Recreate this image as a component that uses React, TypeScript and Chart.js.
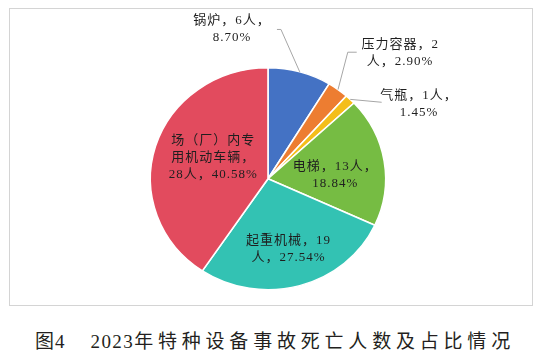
import React, { useEffect, useRef } from 'react';
import { Chart, registerables } from 'chart.js';

Chart.register(...registerables);

// ---- data ----
const categories = ['锅炉', '压力容器', '气瓶', '电梯', '起重机械', '场（厂）内专用机动车辆'];
const deaths = [6, 2, 1, 13, 19, 28];
const colors = ['#4472C4', '#ED7D31', '#F4BE1A', '#76BC43', '#33C2B3', '#E24B5E'];
const caption = '2023年特种设备事故死亡人数及占比情况';

// ---- label layout (character counts per line, anchor in radius units) ----
const wrapCounts = [[6], [6], [6], [7], [7], [6, 6]];
const labelAnchors = [
  [-0.305, -1.345],
  [1.123, -1.128],
  [1.284, -0.677],
  [0.572, -0.032],
  [0.175, 0.637],
  [-0.466, -0.189],
];
// leader polylines (from slice edge) in radius units; null = inside label
const leaders: (number[][] | null)[] = [
  [[0.11, -1.345], [0.076, -1.345]],
  [[0.678, -1.14], [0.754, -1.14]],
  [[0.966, -0.689]],
  null,
  null,
  null,
];

const SX = 1.06; // horizontal stretch of the pie
const RY = 111;

function labelText(i: number) {
  const total = deaths.reduce((a, b) => a + b, 0);
  const pct = ((deaths[i] / total) * 100).toFixed(2) + '%';
  const full = `${categories[i]}，${deaths[i]}人，${pct}`;
  const chars = Array.from(full);
  const lines: string[] = [];
  let p = 0;
  for (const c of wrapCounts[i]) {
    lines.push(chars.slice(p, p + c).join(''));
    p += c;
  }
  lines.push(chars.slice(p).join(''));
  return lines;
}

const stretchPlugin = {
  id: 'stretch',
  beforeDatasetsDraw(chart: any) {
    const a = chart.getDatasetMeta(0).data[0];
    const ctx = chart.ctx;
    ctx.save();
    ctx.translate(a.x, a.y);
    ctx.scale(SX, 1);
    ctx.translate(-a.x, -a.y);
  },
  afterDatasetsDraw(chart: any) {
    chart.ctx.restore();
  },
};

const labelPlugin = {
  id: 'pieLabels',
  afterDraw(chart: any) {
    const ctx = chart.ctx as CanvasRenderingContext2D;
    const arcs = chart.getDatasetMeta(0).data;
    const cx = arcs[0].x;
    const cy = arcs[0].y;
    const ry = arcs[0].outerRadius;
    const rx = ry * SX;
    ctx.save();
    arcs.forEach((arc: any, i: number) => {
      const mid = (arc.startAngle + arc.endAngle) / 2;
      const lead = leaders[i];
      if (lead) {
        ctx.strokeStyle = '#A6A6A6';
        ctx.lineWidth = 1;
        ctx.beginPath();
        ctx.moveTo(cx + rx * Math.cos(mid), cy + ry * Math.sin(mid));
        lead.forEach(([ux, uy]) => ctx.lineTo(cx + ux * rx, cy + uy * ry));
        ctx.stroke();
      }
      const [ax, ay] = labelAnchors[i];
      const x = cx + ax * rx;
      const y = cy + ay * ry;
      const lines = labelText(i);
      const lh = 17;
      ctx.font = '13px "Liberation Serif", "Noto Sans CJK SC", serif';
      (ctx as any).letterSpacing = '1px';
      ctx.fillStyle = '#1F1F1F';
      ctx.textAlign = 'center';
      ctx.textBaseline = 'middle';
      lines.forEach((ln, k) => {
        ctx.fillText(ln, x, y + (k - (lines.length - 1) / 2) * lh);
      });
    });
    ctx.restore();
  },
};

export default function App() {
  const ref = useRef<HTMLCanvasElement>(null);
  useEffect(() => {
    if (!ref.current) return;
    const chart = new Chart(ref.current, {
      type: 'pie',
      data: {
        labels: categories,
        datasets: [
          {
            data: deaths,
            backgroundColor: colors,
            borderColor: '#ffffff',
            borderWidth: 1.5,
          },
        ],
      },
      options: {
        responsive: false,
        animation: false,
        radius: RY,
        layout: { padding: { left: 100, right: 110, top: 66.5, bottom: 19 } },
        plugins: {
          legend: { display: false },
          tooltip: { enabled: false },
        },
      } as any,
      plugins: [stretchPlugin, labelPlugin],
    });
    return () => chart.destroy();
  }, []);

  return (
    <div style={{ position: 'absolute', left: 0, top: 0, width: 546, height: 358, background: '#fff' }}>
      <div
        style={{
          position: 'absolute',
          left: 9,
          top: 8,
          width: 522,
          height: 296,
          border: '1px solid #D4D4D4',
        }}
      />
      <canvas ref={ref} width={546} height={310} style={{ position: 'absolute', left: 0, top: 0, width: 546, height: 310 }} />
      <div
        style={{
          position: 'absolute',
          left: 35,
          top: 331,
          height: 22,
          lineHeight: '22px',
          fontSize: 19,
          color: '#231F20',
          whiteSpace: 'pre',
          fontFamily: '"Liberation Serif", "Noto Sans CJK SC", serif',
        }}
      >
        <span style={{ letterSpacing: 1 }}>图4</span>
        <span style={{ display: 'inline-block', width: 25 }} />
        <span style={{ letterSpacing: 1.4 }}>{caption.slice(0, 4)}</span>
        <span style={{ letterSpacing: 4.8 }}>{caption.slice(4)}</span>
      </div>
    </div>
  );
}
